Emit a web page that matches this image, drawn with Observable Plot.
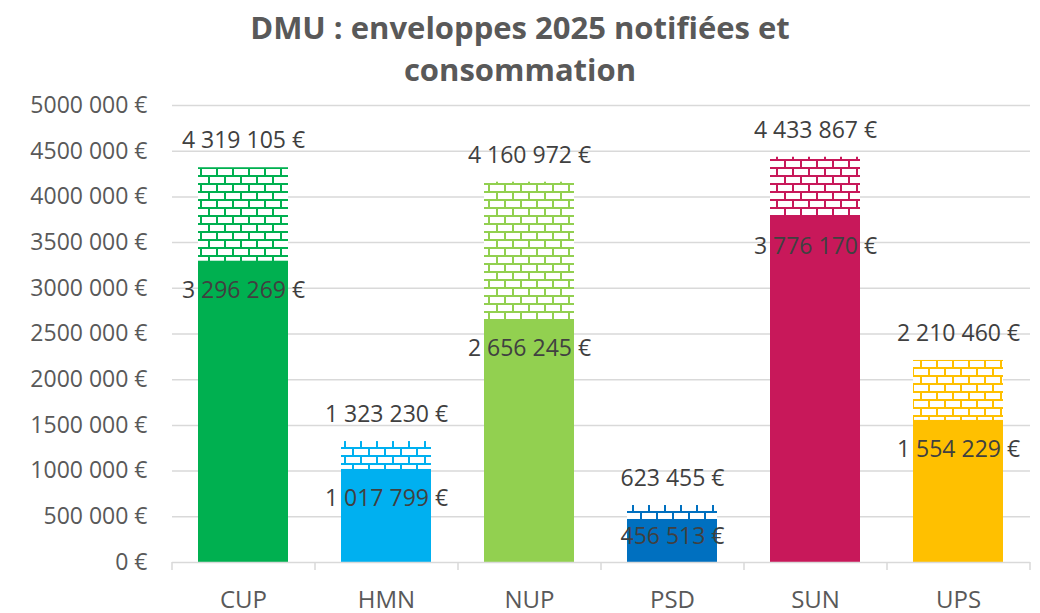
<!DOCTYPE html>
<html>
<head>
<meta charset="utf-8">
<script src="https://cdn.jsdelivr.net/npm/d3@7"></script>
<script src="https://cdn.jsdelivr.net/npm/@observablehq/plot@0.6"></script>
<style>
  html, body { margin: 0; padding: 0; background: #fff; }
  #title { width: 1040px; height: 95px; text-align: center; font-family: "Open Sans", sans-serif; font-weight: bold; font-size: 31px; line-height: 42px; color: #595959; padding-top: 6px; box-sizing: border-box; }
  #chart svg { display: block; overflow: visible; }
</style>
</head>
<body>
<div id="title">DMU : enveloppes 2025 notifiées et<br>consommation</div>
<div id="chart"></div>
<script>
const categories = ["CUP", "HMN", "NUP", "PSD", "SUN", "UPS"];
const enveloppes = [4319105, 1323230, 4160972, 623455, 4433867, 2210460];
const consommation = [3296269, 1017799, 2656245, 456513, 3776170, 1554229];
const colors = ["#00B050", "#00B0F0", "#92D050", "#0070C0", "#C8185A", "#FFC000"];
const yTicks = [0, 500000, 1000000, 1500000, 2000000, 2500000, 3000000, 3500000, 4000000, 4500000, 5000000];
const yTickLabels = ["0 €", "500 000 €", "1000 000 €", "1500 000 €", "2000 000 €", "2500 000 €", "3000 000 €", "3500 000 €", "4000 000 €", "4500 000 €", "5000 000 €"];

const data = categories.map((c, i) => ({cat: c, total: enveloppes[i], used: consommation[i], color: colors[i]}));
const fmt = v => d3.format(",")(v).replace(/,/g, " ") + " €";

const W = 1040, H = 518, mL = 172, mR = 10;
const step = (W - mL - mR) / categories.length;
const shortBar = d => d.used < 600000;

const plot = Plot.plot({
  width: W,
  height: H,
  marginTop: 10,
  marginBottom: 51,
  marginLeft: mL,
  marginRight: mR,
  style: {fontFamily: "Open Sans, sans-serif", background: "#fff", overflow: "visible"},
  x: {domain: categories, paddingInner: 0.37, paddingOuter: 0.185, label: null},
  y: {domain: [0, 5000000], label: null},
  color: {type: "identity"},
  marks: [
    Plot.gridY(yTicks.slice(1), {stroke: "#d9d9d9", strokeOpacity: 1, strokeWidth: 1.5}),
    Plot.axisY(yTicks, {tickSize: 0, tickPadding: 25, fontSize: 23, fill: "#595959", tickFormat: d => yTickLabels[yTicks.indexOf(d)], label: null}),
    Plot.barY(data, {x: "cat", y: "total", fill: d => `url(#brick-${d.cat})`}),
    Plot.barY(data, {x: "cat", y: "used", fill: "color"}),
    Plot.ruleY([0], {stroke: "#d9d9d9", strokeWidth: 1.5}),
    Plot.ruleX(categories, {x: d => d, y1: 0, y2: 0, insetBottom: -8, dx: -step / 2, stroke: "#d9d9d9", strokeWidth: 1.5}),
    Plot.ruleX([categories[categories.length - 1]], {x: d => d, y1: 0, y2: 0, insetBottom: -8, dx: step / 2, stroke: "#d9d9d9", strokeWidth: 1.5}),
    Plot.axisX({tickSize: 0, tickPadding: 28, fontSize: 24, fill: "#595959", label: null}),
    Plot.text(data, {x: "cat", y: "total", text: d => fmt(d.total), dy: -27, fontSize: 23, fill: "#404040"}),
    Plot.text(data.filter(d => !shortBar(d)), {x: "cat", y: "used", text: d => fmt(d.used), dy: 29, fontSize: 23, fill: "#404040"}),
    Plot.text(data.filter(shortBar), {x: "cat", y: "used", text: d => fmt(d.used), dy: 16, fontSize: 23, fill: "#404040"})
  ]
});

const svg = d3.select(plot);
const defs = svg.insert("defs", ":first-child");
data.forEach(d => {
  const p = defs.append("pattern")
    .attr("id", `brick-${d.cat}`)
    .attr("patternUnits", "userSpaceOnUse")
    .attr("width", 16).attr("height", 16);
  p.append("rect").attr("width", 16).attr("height", 16).attr("fill", "#fff");
  p.append("rect").attr("x", 0).attr("y", 0).attr("width", 16).attr("height", 2).attr("fill", d.color);
  p.append("rect").attr("x", 0).attr("y", 8).attr("width", 16).attr("height", 2).attr("fill", d.color);
  p.append("rect").attr("x", 0).attr("y", 2).attr("width", 2).attr("height", 6).attr("fill", d.color);
  p.append("rect").attr("x", 8).attr("y", 10).attr("width", 2).attr("height", 6).attr("fill", d.color);
});

document.getElementById("chart").appendChild(plot);
</script>
</body>
</html>
